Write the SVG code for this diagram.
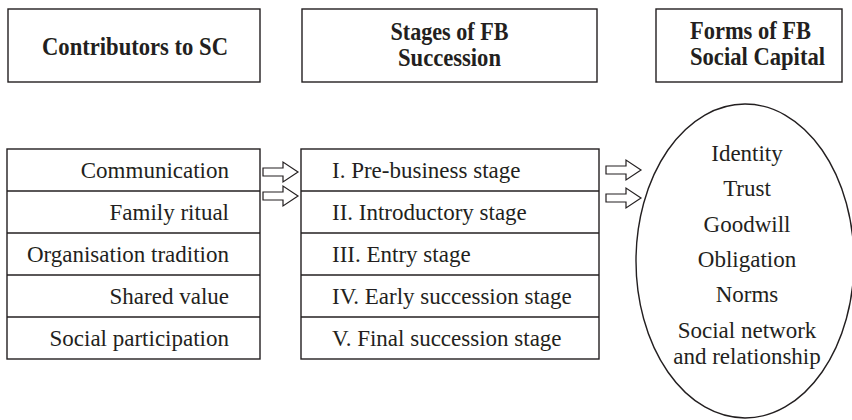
<svg xmlns="http://www.w3.org/2000/svg" width="852" height="420" viewBox="0 0 852 420">
  <style>
    .box { fill: #ffffff; stroke: #231f20; stroke-width: 1.4; }
    .div { stroke: #231f20; stroke-width: 1.4; }
    .head { font-family: "Liberation Serif", "Times New Roman", serif; font-weight: bold; font-size: 25px; fill: #231f20; }
    .item { font-family: "Liberation Serif", "Times New Roman", serif; font-size: 23px; fill: #231f20; }
    .arrow { fill: #ffffff; stroke: #231f20; stroke-width: 1.2; stroke-linejoin: miter; }
  </style>
  <defs>
    <path id="blockArrow" class="arrow" d="M0,-4 L20,-4 L20,-10 L35,0 L20,10 L20,4 L0,4 Z"/>
  </defs>

  <!-- column headers -->
  <g id="header-contributors">
    <rect class="box" x="8" y="9" width="252" height="73"/>
    <text class="head" x="135" y="55" text-anchor="middle" textLength="186" lengthAdjust="spacingAndGlyphs">Contributors to SC</text>
  </g>
  <g id="header-stages">
    <rect class="box" x="302" y="9" width="295" height="73"/>
    <text class="head" x="449.5" y="40" text-anchor="middle" textLength="118" lengthAdjust="spacingAndGlyphs">Stages of FB</text>
    <text class="head" x="449.5" y="66" text-anchor="middle" textLength="103" lengthAdjust="spacingAndGlyphs">Succession</text>
  </g>
  <g id="header-forms">
    <rect class="box" x="656" y="9" width="186" height="73"/>
    <text class="head" x="690" y="39" textLength="121" lengthAdjust="spacingAndGlyphs">Forms of FB</text>
    <text class="head" x="690" y="65" textLength="135" lengthAdjust="spacingAndGlyphs">Social Capital</text>
  </g>

  <!-- contributors to social capital -->
  <g id="contributors">
    <rect class="box" x="7" y="149" width="253" height="210"/>
    <line class="div" x1="7" y1="191" x2="260" y2="191"/>
    <line class="div" x1="7" y1="233" x2="260" y2="233"/>
    <line class="div" x1="7" y1="275" x2="260" y2="275"/>
    <line class="div" x1="7" y1="317" x2="260" y2="317"/>
    <text class="item" x="229" y="178" text-anchor="end">Communication</text>
    <text class="item" x="229" y="220" text-anchor="end">Family ritual</text>
    <text class="item" x="229" y="262" text-anchor="end">Organisation tradition</text>
    <text class="item" x="229" y="304" text-anchor="end">Shared value</text>
    <text class="item" x="229" y="346" text-anchor="end">Social participation</text>
  </g>

  <!-- stages of family business succession -->
  <g id="stages">
    <rect class="box" x="301" y="149" width="298" height="210"/>
    <line class="div" x1="301" y1="191" x2="599" y2="191"/>
    <line class="div" x1="301" y1="233" x2="599" y2="233"/>
    <line class="div" x1="301" y1="275" x2="599" y2="275"/>
    <line class="div" x1="301" y1="317" x2="599" y2="317"/>
    <text class="item" x="332" y="178">I. Pre-business stage</text>
    <text class="item" x="332" y="220">II. Introductory stage</text>
    <text class="item" x="332" y="262">III. Entry stage</text>
    <text class="item" x="332" y="304">IV. Early succession stage</text>
    <text class="item" x="332" y="346">V. Final succession stage</text>
  </g>

  <!-- forms of family business social capital -->
  <g id="forms">
    <ellipse class="box" cx="745" cy="261" rx="109" ry="157"/>
    <text class="item" x="747" y="161" text-anchor="middle">Identity</text>
    <text class="item" x="747" y="196" text-anchor="middle">Trust</text>
    <text class="item" x="747" y="232" text-anchor="middle">Goodwill</text>
    <text class="item" x="747" y="267" text-anchor="middle">Obligation</text>
    <text class="item" x="747" y="302" text-anchor="middle">Norms</text>
    <text class="item" x="747" y="338" text-anchor="middle">Social network</text>
    <text class="item" x="747" y="364" text-anchor="middle">and relationship</text>
  </g>

  <!-- connectors -->
  <g id="connectors">
    <use href="#blockArrow" x="263" y="172"/>
    <use href="#blockArrow" x="263" y="196"/>
    <use href="#blockArrow" x="606" y="170"/>
    <use href="#blockArrow" x="606" y="198"/>
  </g>
</svg>
